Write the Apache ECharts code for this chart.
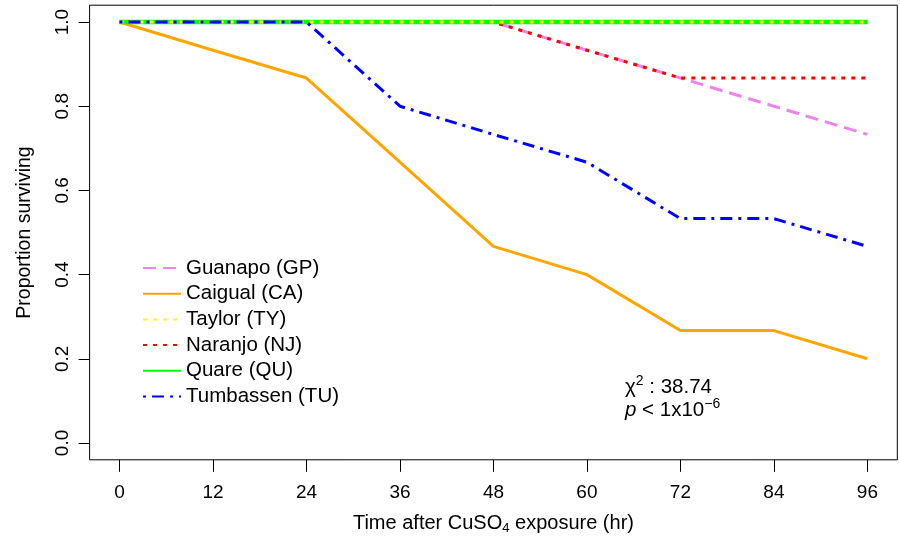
<!DOCTYPE html>
<html>
<head>
<meta charset="utf-8">
<script src="https://cdn.jsdelivr.net/npm/echarts@6/dist/echarts.min.js"></script>
<style>
html,body{margin:0;padding:0;background:#fff;}
#chart{width:900px;height:536px;}
</style>
</head>
<body>
<div id="chart"></div>
<script>
// ---- data ----
var hours = [0, 12, 24, 36, 48, 60, 72, 84, 96];
var guanapo   = [1, 1, 1, 1, 1, 0.933, 0.867, 0.8, 0.733];
var caigual   = [1, 0.933, 0.867, 0.667, 0.467, 0.4, 0.267, 0.267, 0.2];
var taylor    = [1, 1, 1, 1, 1, 1, 1, 1, 1];
var naranjo   = [1, 1, 1, 1, 1, 0.933, 0.867, 0.867, 0.867];
var quare     = [1, 1, 1, 1, 1, 1, 1, 1, 1];
var tumbassen = [1, 1, 1, 0.8, 0.733, 0.667, 0.533, 0.533, 0.467];
var xTicks = [0, 12, 24, 36, 48, 60, 72, 84, 96];
var yTicks = [0, 0.2, 0.4, 0.6, 0.8, 1.0];
var legendNames = ['Guanapo (GP)', 'Caigual (CA)', 'Taylor (TY)', 'Naranjo (NJ)', 'Quare (QU)', 'Tumbassen (TU)'];

function pairs(ys) { return hours.map(function (h, i) { return [h, ys[i]]; }); }

var FONT = 'Liberation Sans, Arial, Helvetica, sans-serif';

function mkSeries(name, ys, color, width, dash) {
  return {
    name: name, type: 'line', data: pairs(ys),
    symbol: 'none', showSymbol: false, animation: false,
    lineStyle: { color: color, width: width, type: dash, join: 'round', cap: 'butt' },
    itemStyle: { color: color },
    emphasis: { disabled: true }
  };
}

var chart = echarts.init(document.getElementById('chart'), null, { renderer: 'canvas' });
chart.setOption({
  backgroundColor: '#fff',
  animation: false,
  textStyle: { fontFamily: FONT },
  grid: {
    left: 89.6, right: 2.7, top: 5.2, bottom: 76.2,
    containLabel: false, outerBoundsMode: 'none',
    show: true, borderColor: '#000', borderWidth: 1, backgroundColor: 'transparent'
  },
  xAxis: {
    type: 'value', min: -3.84, max: 99.84,
    axisLine: { show: false, onZero: false },
    splitLine: { show: false },
    axisTick: { show: true, customValues: xTicks, length: 12, inside: false, lineStyle: { color: '#000', width: 1 } },
    axisLabel: { customValues: xTicks, color: '#000', fontSize: 19, margin: 23, fontFamily: FONT },
    name: 'Time after CuSO{sub|4} exposure (hr)',
    nameLocation: 'middle', nameGap: 52,
    nameTextStyle: {
      color: '#000', fontSize: 20, fontFamily: FONT,
      rich: { sub: { fontSize: 13, color: '#000', fontFamily: FONT, verticalAlign: 'bottom', padding: [10, 0, 0, 0] } }
    }
  },
  yAxis: {
    type: 'value', min: -0.04, max: 1.04,
    axisLine: { show: false, onZero: false },
    splitLine: { show: false },
    axisTick: { show: true, customValues: yTicks, length: 11, inside: false, lineStyle: { color: '#000', width: 1 } },
    axisLabel: {
      customValues: yTicks, color: '#000', fontSize: 19, margin: 17, rotate: 90, fontFamily: FONT,
      formatter: function (v) { return v.toFixed(1); }
    },
    name: 'Proportion surviving',
    nameLocation: 'middle', nameGap: 55,
    nameTextStyle: { color: '#000', fontSize: 19.5, fontFamily: FONT }
  },
  legend: {
    data: legendNames,
    orient: 'vertical',
    left: 137, top: 252.5,
    itemWidth: 38, itemHeight: 14, itemGap: 4.7,
    selectedMode: false,
    itemStyle: { opacity: 0 },
    textStyle: { color: '#000', fontSize: 20.5, fontFamily: FONT }
  },
  series: [
    mkSeries('Guanapo (GP)', guanapo, '#EE82EE', 3, [13, 7]),
    mkSeries('Caigual (CA)', caigual, '#FFA500', 3, 'solid'),
    mkSeries('Naranjo (NJ)', naranjo, '#FF0000', 3, [4, 6]),
    mkSeries('Quare (QU)', quare, '#00FF00', 4.5, 'solid'),
    mkSeries('Taylor (TY)', taylor, '#FFFF00', 3, [4, 6]),
    mkSeries('Tumbassen (TU)', tumbassen, '#0000FF', 3, [3, 6, 12, 6])
  ],
  graphic: [
    {
      type: 'text', left: 625, top: 374, silent: true,
      style: {
        text: '{c|χ}{sup|2}{c| : 38.74}',
        fill: '#000', font: '20.5px ' + FONT,
        rich: {
          c: { fontSize: 20.5, fontFamily: FONT, fill: '#000' },
          sup: { fontSize: 14, fontFamily: FONT, fill: '#000', verticalAlign: 'top', padding: [0, 0, 12, 0] }
        }
      }
    },
    {
      type: 'text', left: 625, top: 397, silent: true,
      style: {
        text: '{i|p}{c| < 1x10}{sup|−6}',
        fill: '#000', font: '20.5px ' + FONT,
        rich: {
          i: { fontSize: 20.5, fontStyle: 'italic', fontFamily: FONT, fill: '#000' },
          c: { fontSize: 20.5, fontFamily: FONT, fill: '#000' },
          sup: { fontSize: 14, fontFamily: FONT, fill: '#000', verticalAlign: 'top', padding: [0, 0, 12, 0] }
        }
      }
    }
  ]
});
</script>
</body>
</html>
